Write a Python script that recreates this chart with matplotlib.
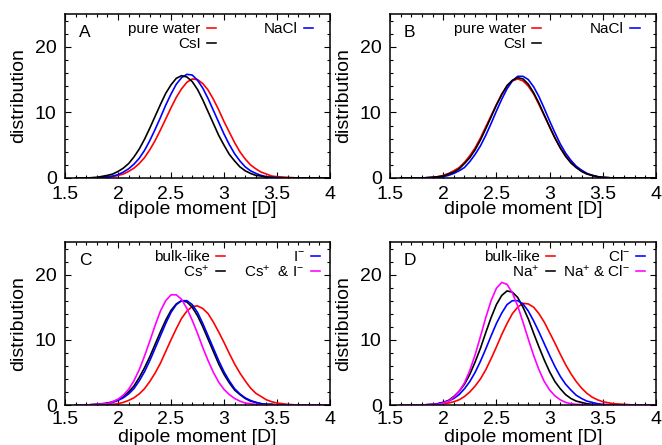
import matplotlib
matplotlib.use("Agg")
import matplotlib.pyplot as plt
from matplotlib.ticker import MultipleLocator

plt.rcParams['font.family'] = ['Liberation Sans', 'DejaVu Sans']
plt.rcParams['mathtext.fontset'] = 'custom'
plt.rcParams['mathtext.rm'] = 'Liberation Sans'
plt.rcParams['mathtext.it'] = 'Liberation Sans:italic'
plt.rcParams['mathtext.bf'] = 'Liberation Sans:bold'

# dipole moment grid [D]
dipole = [1.6, 1.7, 1.8, 1.9, 1.95, 2.0, 2.05, 2.1, 2.15, 2.2, 2.25, 2.3, 2.35,
          2.4, 2.45, 2.5, 2.55, 2.6, 2.65, 2.7, 2.75, 2.8, 2.85, 2.9, 2.95, 3.0,
          3.05, 3.1, 3.15, 3.2, 3.25, 3.3, 3.35, 3.4, 3.45, 3.5, 3.6, 3.7, 3.8,
          3.9, 4.0]

# panel A
a_pure_water = [0.0, 0.0, 0.0, 0.1, 0.2, 0.4, 0.6, 1.0, 1.5, 2.2, 3.1, 4.3, 5.7, 7.3, 9.0,
                10.7, 12.3, 13.6, 14.6, 15.1, 15.0, 14.4, 13.4, 12.0, 10.4, 8.6, 7.0,
                5.4, 4.0, 2.9, 2.0, 1.4, 0.9, 0.6, 0.3, 0.2, 0.1, 0.0, 0.0, 0.0, 0.0]
a_nacl = [0.0, 0.0, 0.05, 0.2, 0.3, 0.5, 0.9, 1.4, 2.1, 3.0, 4.2, 5.7, 7.4, 9.2, 11.1,
          12.8, 14.3, 15.3, 15.8, 15.7, 14.9, 13.7, 12.1, 10.3, 8.5, 6.7, 5.1, 3.7,
          2.6, 1.7, 1.1, 0.7, 0.4, 0.2, 0.1, 0.1, 0.0, 0.0, 0.0, 0.0, 0.0]
a_csi = [0.0, 0.0, 0.1, 0.4, 0.6, 1.0, 1.5, 2.2, 3.2, 4.4, 5.9, 7.6, 9.4, 11.2, 12.9,
         14.2, 15.2, 15.6, 15.4, 14.7, 13.5, 11.9, 10.1, 8.3, 6.5, 5.0, 3.6, 2.6,
         1.7, 1.1, 0.7, 0.4, 0.3, 0.1, 0.1, 0.0, 0.0, 0.0, 0.0, 0.0, 0.0]

# panel B
b_pure_water = [0.0, 0.0, 0.0, 0.1, 0.2, 0.4, 0.7, 1.1, 1.6, 2.4, 3.4, 4.6, 6.1, 7.8, 9.5,
                11.2, 12.8, 14.0, 14.8, 15.1, 14.8, 14.0, 12.8, 11.2, 9.5, 7.8, 6.1,
                4.6, 3.4, 2.4, 1.6, 1.1, 0.7, 0.4, 0.2, 0.1, 0.0, 0.0, 0.0, 0.0, 0.0]
b_csi = [0.0, 0.0, 0.0, 0.1, 0.2, 0.3, 0.6, 0.9, 1.4, 2.2, 3.1, 4.3, 5.8, 7.5, 9.3,
         11.1, 12.7, 14.1, 14.9, 15.3, 15.1, 14.3, 13.0, 11.4, 9.6, 7.8, 6.1, 4.6,
         3.3, 2.3, 1.6, 1.0, 0.6, 0.4, 0.2, 0.1, 0.0, 0.0, 0.0, 0.0, 0.0]
b_nacl = [0.0, 0.0, 0.0, 0.1, 0.1, 0.2, 0.4, 0.7, 1.1, 1.6, 2.5, 3.6, 4.9, 6.5, 8.3,
          10.2, 12.0, 13.6, 14.8, 15.5, 15.5, 15.0, 13.9, 12.4, 10.6, 8.7, 6.9, 5.2,
          3.8, 2.7, 1.8, 1.2, 0.7, 0.4, 0.2, 0.1, 0.0, 0.0, 0.0, 0.0, 0.0]

# panel C
c_bulk = [0.0, 0.0, 0.0, 0.1, 0.1, 0.2, 0.4, 0.7, 1.1, 1.7, 2.5, 3.6, 4.9, 6.4, 8.2,
          10.0, 11.7, 13.3, 14.4, 15.1, 15.2, 14.8, 14.0, 12.7, 11.2, 9.6, 7.9, 6.3,
          4.9, 3.7, 2.6, 1.8, 1.3, 0.8, 0.5, 0.3, 0.1, 0.0, 0.0, 0.0, 0.0]
c_cation = [0.0, 0.0, 0.1, 0.3, 0.5, 0.8, 1.3, 2.0, 2.9, 4.2, 5.7, 7.4, 9.3, 11.2, 13.0,
            14.5, 15.5, 16.0, 15.8, 15.0, 13.7, 12.0, 10.1, 8.2, 6.3, 4.7, 3.4, 2.3,
            1.6, 1.0, 0.6, 0.4, 0.2, 0.1, 0.1, 0.0, 0.0, 0.0, 0.0, 0.0, 0.0]
c_anion = [0.0, 0.0, 0.1, 0.2, 0.4, 0.7, 1.1, 1.7, 2.5, 3.7, 5.1, 6.8, 8.7, 10.6, 12.5,
           14.2, 15.4, 16.0, 16.0, 15.4, 14.2, 12.5, 10.6, 8.7, 6.8, 5.1, 3.7, 2.5,
           1.7, 1.1, 0.7, 0.4, 0.2, 0.1, 0.1, 0.0, 0.0, 0.0, 0.0, 0.0, 0.0]
c_both = [0.0, 0.0, 0.1, 0.2, 0.5, 0.9, 1.5, 2.4, 3.7, 5.4, 7.5, 9.8, 12.2, 14.4, 16.0,
          16.9, 16.9, 16.2, 14.8, 13.0, 11.0, 8.8, 6.8, 5.0, 3.5, 2.4, 1.6, 1.0,
          0.6, 0.3, 0.2, 0.1, 0.0, 0.0, 0.0, 0.0, 0.0, 0.0, 0.0, 0.0, 0.0]

# panel D
d_bulk = [0.0, 0.0, 0.0, 0.0, 0.1, 0.2, 0.3, 0.5, 0.8, 1.3, 2.0, 2.9, 4.0, 5.4, 7.1,
          8.9, 10.8, 12.5, 14.0, 15.0, 15.6, 15.5, 15.0, 14.0, 12.7, 11.1, 9.5, 7.8,
          6.2, 4.8, 3.6, 2.6, 1.8, 1.2, 0.8, 0.5, 0.2, 0.1, 0.0, 0.0, 0.0]
d_cation = [0.0, 0.0, 0.0, 0.1, 0.2, 0.4, 0.7, 1.3, 2.1, 3.2, 4.7, 6.6, 8.7, 11.1, 13.4,
            15.4, 16.8, 17.5, 17.3, 16.5, 15.0, 13.2, 11.0, 8.9, 6.9, 5.1, 3.6, 2.5,
            1.6, 1.0, 0.6, 0.4, 0.2, 0.1, 0.1, 0.0, 0.0, 0.0, 0.0, 0.0, 0.0]
d_anion = [0.0, 0.0, 0.0, 0.1, 0.2, 0.4, 0.6, 1.0, 1.6, 2.5, 3.6, 5.0, 6.7, 8.6, 10.6,
           12.5, 14.1, 15.4, 16.0, 16.0, 15.5, 14.4, 12.9, 11.2, 9.4, 7.6, 5.9, 4.4,
           3.2, 2.3, 1.5, 1.0, 0.6, 0.4, 0.2, 0.1, 0.0, 0.0, 0.0, 0.0, 0.0]
d_both = [0.0, 0.0, 0.0, 0.1, 0.1, 0.3, 0.6, 1.2, 2.1, 3.4, 5.3, 7.7, 10.5, 13.4, 16.0,
          17.9, 18.8, 18.5, 17.2, 15.2, 12.7, 10.1, 7.6, 5.4, 3.6, 2.3, 1.4, 0.8,
          0.4, 0.2, 0.1, 0.1, 0.0, 0.0, 0.0, 0.0, 0.0, 0.0, 0.0, 0.0, 0.0]

xtick_values = [1.5, 2.0, 2.5, 3.0, 3.5, 4.0]
xtick_labels = ['1.5', '2', '2.5', '3', '3.5', '4']
ytick_values = [0, 10, 20]
ytick_labels = ['0', '10', '20']

RED, BLUE, BLACK, MAGENTA = '#ff0000', '#0000ff', '#000000', '#ff00ff'

# (letter, series list, key entries (label, color, column, row), key column x)
panels = [
    ('A', [(a_pure_water, RED), (a_nacl, BLUE), (a_csi, BLACK)],
     [('pure water', RED, 0, 0), ('CsI', BLACK, 0, 1), ('NaCl', BLUE, 1, 0)],
     (0.512, 0.878)),
    ('B', [(b_pure_water, RED), (b_nacl, BLUE), (b_csi, BLACK)],
     [('pure water', RED, 0, 0), ('CsI', BLACK, 0, 1), ('NaCl', BLUE, 1, 0)],
     (0.511, 0.880)),
    ('C', [(c_bulk, RED), (c_cation, BLACK), (c_anion, BLUE), (c_both, MAGENTA)],
     [('bulk-like', RED, 0, 0), ('Cs$^{+}$', BLACK, 0, 1),
      ('I$^{-}$', BLUE, 1, 0), ('Cs$^{+}$  & I$^{-}$', MAGENTA, 1, 1)],
     (0.545, 0.905)),
    ('D', [(d_bulk, RED), (d_cation, BLACK), (d_anion, BLUE), (d_both, MAGENTA)],
     [('bulk-like', RED, 0, 0), ('Na$^{+}$', BLACK, 0, 1),
      ('Cl$^{-}$', BLUE, 1, 0), ('Na$^{+}$ & Cl$^{-}$', MAGENTA, 1, 1)],
     (0.562, 0.902)),
]

W, H = 662, 445
fig = plt.figure(figsize=(W / 100, H / 100), dpi=100)

# axes boxes in pixels: left, top, right, bottom
boxes = [(65, 14, 330, 178), (390, 14, 656, 178),
         (65, 242, 330, 405), (390, 242, 656, 405)]

TICK_FS = 14
KEY_FS = 11
row_base = (0.882, 0.790)

for i, ((letter, series, entries, colx), (l, t, r, b)) in enumerate(zip(panels, boxes)):
    ax = fig.add_axes([l / W, 1 - b / H, (r - l) / W, (b - t) / H])
    for vals, col in series:
        ax.plot(dipole, vals, color=col, lw=1.2, solid_joinstyle='round')
    ax.set_xlim(1.5, 4.0)
    ax.set_ylim(0, 25)
    ax.set_xticks(xtick_values, xtick_labels)
    ax.set_yticks(ytick_values, ytick_labels)
    ax.xaxis.set_minor_locator(MultipleLocator(0.1))
    ax.yaxis.set_minor_locator(MultipleLocator(2))
    bottom_row = i >= 2
    ax.tick_params(which='both', direction='in', top=True, right=True,
                   width=0.8, labelsize=TICK_FS)
    ax.tick_params(which='major', length=4)
    ax.tick_params(which='minor', length=2)
    ax.tick_params(axis='x', pad=4.3 if bottom_row else 5.5)
    ax.tick_params(axis='y', pad=6.0)
    for s in ax.spines.values():
        s.set_linewidth(1.1)
    ax.set_xlabel('dipole moment [D]', fontsize=TICK_FS)
    ax.set_ylabel('distribution', fontsize=TICK_FS)
    ax.xaxis.set_label_coords(0.5, -0.15 if bottom_row else -0.142)
    ax.yaxis.set_label_coords(-0.143, 0.5)

    ax.text(0.053, 0.858, letter, transform=ax.transAxes, fontsize=12.5,
            ha='left', va='baseline')
    for label, col, c, rw in entries:
        xr = colx[c]
        yb = row_base[rw]
        ax.text(xr, yb, label, transform=ax.transAxes, fontsize=KEY_FS,
                ha='right', va='baseline')
        ax.plot([xr + 0.024, xr + 0.058], [yb + 0.031, yb + 0.031],
                transform=ax.transAxes, color=col, lw=1.15)

fig.savefig('out.png', dpi=100)
